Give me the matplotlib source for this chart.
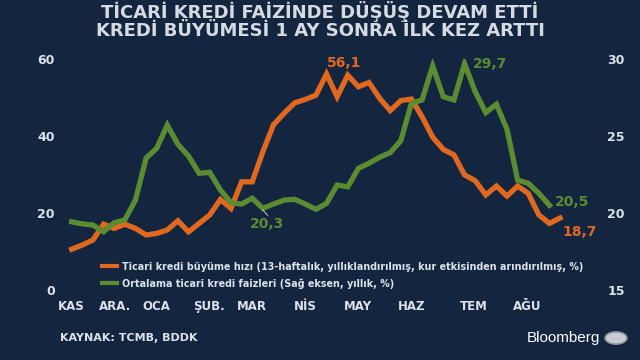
import numpy as np
import matplotlib
matplotlib.use("Agg")
import matplotlib.pyplot as plt
from matplotlib.patches import Circle

# haftalik veriler (Kasim -> Agustos)
kredi_buyume = [10.6, 11.7, 13.0, 17.1, 16.0, 17.1, 16.0, 14.3, 14.7, 15.6,
                18.0, 15.1, 17.3, 19.5, 23.5, 21.2, 28.1, 28.1, 35.9, 42.9,
                45.9, 48.6, 49.5, 50.6, 56.1, 50.2, 55.8, 52.8, 53.9, 49.8,
                46.6, 49.2, 49.6, 45.0, 39.7, 36.5, 35.1, 29.9, 28.4, 24.7,
                27.0, 24.4, 27.0, 25.1, 19.5, 17.3, 18.7]
kredi_faiz = [19.43, 19.29, 19.22, 18.78, 19.37, 19.55, 20.84, 23.56, 24.2, 25.71,
              24.46, 23.7, 22.58, 22.64, 21.5, 20.67, 20.58, 20.96, 20.3, 20.58,
              20.84, 20.89, 20.58, 20.24, 20.63, 21.82, 21.7, 22.9, 23.23, 23.62,
              23.92, 24.7, 27.13, 27.34, 29.55, 27.55, 27.34, 29.7, 27.88, 26.52,
              27.06, 25.43, 22.14, 21.93, 21.28, 20.5]
aylar = ["KAS", "ARA.", "OCA", "ŞUB.", "MAR", "NİS", "MAY", "HAZ", "TEM", "AĞU"]
ay_konum = [0, 4.05, 8.0, 12.9, 17.0, 22.0, 27.0, 32.0, 37.9, 42.9]
sol_ticks = [0, 20, 40, 60]
sag_ticks = [15, 20, 25, 30]

BG = "#13253f"
TXT = "#dde2ea"
ORANGE = "#e0691f"
GREEN = "#5b8c32"

fig = plt.figure(figsize=(6.4, 3.6), dpi=100, facecolor=BG)
ax = fig.add_axes([0.0955, 0.1944, 0.846, 0.6417])
ax.set_facecolor(BG)
ax2 = ax.twinx()

x1 = np.arange(len(kredi_buyume))
x2 = np.arange(len(kredi_faiz))
l1, = ax.plot(x1, kredi_buyume, color=ORANGE, lw=3.8, solid_joinstyle="miter")
l2, = ax2.plot(x2, kredi_faiz, color=GREEN, lw=3.8, solid_joinstyle="miter")

ax.set_xlim(-1, 50)
ax.set_ylim(0, 60)
ax2.set_ylim(15, 30)

for a in (ax, ax2):
    for s in a.spines.values():
        s.set_visible(False)
    a.tick_params(length=0, colors=TXT, labelsize=9)

ax.set_yticks(sol_ticks)
ax.set_yticklabels([str(v) for v in sol_ticks], fontweight="bold")
ax.tick_params(axis="y", pad=4.5)
ax2.set_yticks(sag_ticks)
ax2.set_yticklabels([str(v) for v in sag_ticks], fontweight="bold")
ax2.tick_params(axis="y", pad=3.5)
ax.set_xticks(ay_konum)
ax.set_xticklabels(aylar, fontweight="bold", fontsize=8.5)
ax.tick_params(axis="x", pad=7)

# etiketler
ax.text(25.65, 59.0, "56,1", color=ORANGE, fontsize=10, fontweight="bold",
        ha="center", va="center")
ax.text(47.8, 15.1, "18,7", color=ORANGE, fontsize=10, fontweight="bold",
        ha="center", va="center")
ax2.text(39.4, 29.68, "29,7", color=GREEN, fontsize=10, fontweight="bold",
         ha="center", va="center")
ax2.text(47.1, 20.7, "20,5", color=GREEN, fontsize=10, fontweight="bold",
         ha="center", va="center")
ax2.text(18.4, 19.29, "20,3", color=GREEN, fontsize=10, fontweight="bold",
         ha="center", va="center")
ax2.plot([18.0, 18.45], [20.2, 19.85], color=TXT, lw=0.6)

leg = ax2.legend([l1, l2],
                 ["Ticari kredi büyüme hızı (13-haftalık, yıllıklandırılmış, kur etkisinden arındırılmış, %)",
                  "Ortalama ticari kredi faizleri (Sağ eksen, yıllık, %)"],
                 loc="upper left", bbox_to_anchor=(97 / 640, 1 - 257 / 360),
                 bbox_transform=fig.transFigure, frameon=False, borderpad=0,
                 handlelength=1.6, handletextpad=0.55, labelspacing=0.65,
                 prop={"size": 6.9, "weight": "bold"})
for t in leg.get_texts():
    t.set_color(TXT)
for h in leg.legend_handles:
    h.set_linewidth(3)

fig.text(0.5, 1 - 12 / 360, "TİCARİ KREDİ FAİZİNDE DÜŞÜŞ DEVAM ETTİ", color="#d6dae2",
         fontsize=13, fontweight="bold", ha="center", va="center")
fig.text(0.5, 1 - 31 / 360, "KREDİ BÜYÜMESİ 1 AY SONRA İLK KEZ ARTTI", color="#d6dae2",
         fontsize=13, fontweight="bold", ha="center", va="center")
fig.text(60 / 640, 1 - 338 / 360, "KAYNAK: TCMB, BDDK", color=TXT,
         fontsize=8, fontweight="bold", ha="left", va="center")
fig.text(600 / 640, 1 - 338 / 360, "Bloomberg", color="white", fontsize=11,
         family="Liberation Sans", ha="right", va="center")
fig.patches.append(Circle((616 / 640, 1 - 338 / 360), 0.017, transform=fig.transFigure,
                          facecolor="#c9ccd2", edgecolor="#8a8f98", lw=1.2))

fig.savefig("out.png", dpi=100, facecolor=BG)
